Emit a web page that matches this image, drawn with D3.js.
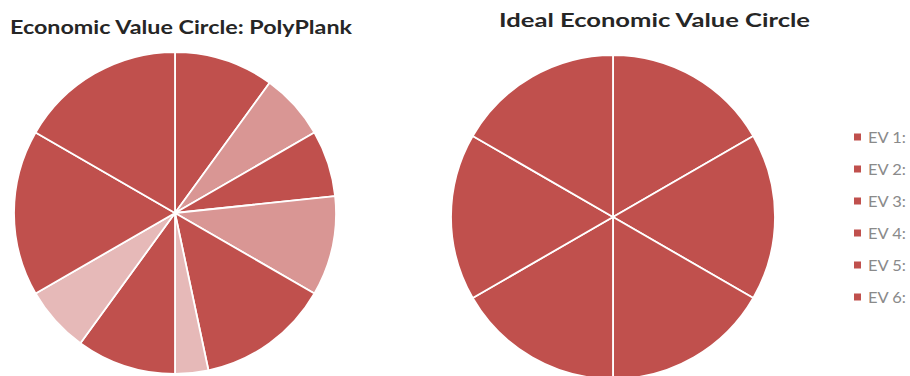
<!DOCTYPE html>
<html>
<head>
<meta charset="utf-8">
<script src="https://cdn.jsdelivr.net/npm/d3@7"></script>
<style>
  html, body { margin: 0; padding: 0; background: #fff; overflow: hidden; }
  svg { display: block; }
</style>
</head>
<body>
<div id="chart"></div>
<script>
(() => {
  const width = 910, height = 376;

  // data (scores out of 5 per economic value)
  const evLabels = ["EV 1:", "EV 2:", "EV 3:", "EV 4:", "EV 5:", "EV 6:"];
  const polyScores = [3, 2, 4, 3, 5, 5];
  const polyGaps = [2, 3, 1, 2, 0, 0];
  const idealScores = [5, 5, 5, 5, 5, 5];

  const titles = ["Economic Value Circle: PolyPlank", "Ideal Economic Value Circle"];

  const scoreColor = "#C0504D";
  const gapColors = ["#D99694", "#D99694", "#E6B9B8", "#E6B9B8", "#E6B9B8", "#E6B9B8"];

  const svg = d3.select("#chart").append("svg")
    .attr("width", width)
    .attr("height", height);

  // flatten score + gap into one slice list, clockwise from 12 o'clock
  const polySlices = [];
  evLabels.forEach((ev, i) => {
    polySlices.push({ ev, value: polyScores[i], fill: scoreColor });
    if (polyGaps[i] > 0) polySlices.push({ ev, value: polyGaps[i], fill: gapColors[i] });
  });
  const idealSlices = evLabels.map((ev, i) => ({ ev, value: idealScores[i], fill: scoreColor }));

  const pie = d3.pie().value(d => d.value).sort(null);

  function drawPie(slices, cx, cy, r) {
    const arc = d3.arc().innerRadius(0).outerRadius(r);
    const g = svg.append("g").attr("transform", `translate(${cx},${cy})`);
    g.selectAll("path")
      .data(pie(slices))
      .join("path")
      .attr("d", arc)
      .attr("fill", d => d.data.fill)
      .attr("stroke", "#fff")
      .attr("stroke-width", 1.8)
      .attr("stroke-linejoin", "round");
  }

  drawPie(polySlices, 175, 213, 161);
  drawPie(idealSlices, 613, 217, 162);

  // titles
  svg.append("text")
    .attr("x", 10).attr("y", 34)
    .attr("textLength", 342).attr("lengthAdjust", "spacingAndGlyphs")
    .attr("font-family", "Lato, 'Open Sans', sans-serif")
    .attr("font-weight", "bold")
    .attr("font-size", 18.5)
    .attr("fill", "#262626")
    .text(titles[0]);

  svg.append("text")
    .attr("x", 499).attr("y", 27)
    .attr("textLength", 311).attr("lengthAdjust", "spacingAndGlyphs")
    .attr("font-family", "Lato, 'Open Sans', sans-serif")
    .attr("font-weight", "bold")
    .attr("font-size", 18.5)
    .attr("fill", "#262626")
    .text(titles[1]);

  // legend
  const legendY = d3.scalePoint().domain(evLabels).range([137, 297]);
  const legend = svg.append("g")
    .selectAll("g")
    .data(evLabels)
    .join("g")
    .attr("transform", d => `translate(854,${legendY(d)})`);

  legend.append("rect")
    .attr("x", 0).attr("y", -3.5)
    .attr("width", 7).attr("height", 7)
    .attr("fill", scoreColor);

  legend.append("text")
    .attr("x", 14).attr("y", 0)
    .attr("dy", "0.36em")
    .attr("textLength", 38).attr("lengthAdjust", "spacingAndGlyphs")
    .attr("font-family", "Lato, 'Open Sans', sans-serif")
    .attr("font-size", 16)
    .attr("fill", "#8a8a8a")
    .text(d => d);
})();
</script>
</body>
</html>
